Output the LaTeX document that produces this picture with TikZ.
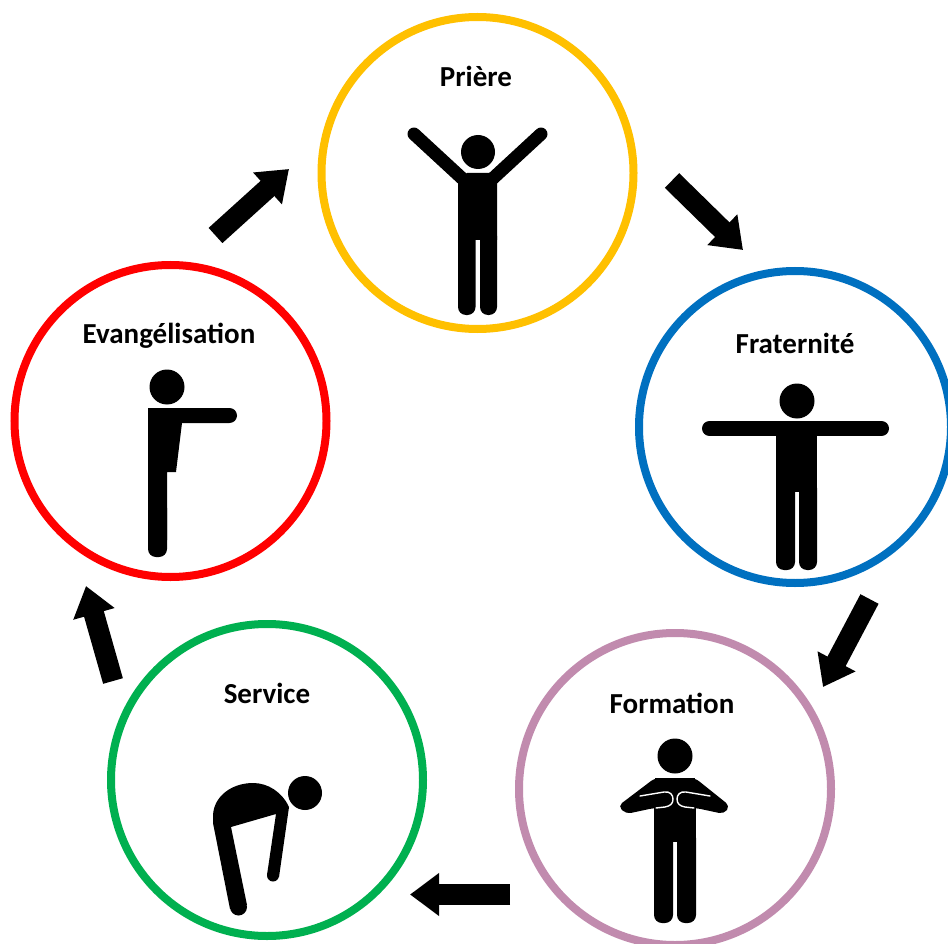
\documentclass[tikz,border=0pt]{standalone}
\usepackage{fontspec}
\setmainfont{Carlito}
\usetikzlibrary{arrows.meta}
\definecolor{cyellow}{HTML}{FFC000}
\definecolor{cblue}{HTML}{0070C0}
\definecolor{cmauve}{HTML}{C18BAE}
\definecolor{cgreen}{HTML}{00B050}
\definecolor{cred}{HTML}{FF0000}
\tikzset{
  ring/.style={circle,draw=#1,line width=8pt,minimum size=312pt,inner sep=0pt,outer sep=0pt},
  ringlabel/.style={font=\fontsize{29pt}{32pt}\selectfont\bfseries,text=black,inner sep=0pt,anchor=base},
  blockarrow/.style={line width=20.5pt,draw=black,-{Triangle[length=29pt,width=41pt]}},
  figfill/.style={fill=black,draw=none},
  limb/.style={line width=#1,draw=black,line cap=round},
  seam/.style={draw=white,line width=1.4pt,line cap=round,line join=round,fill=none}
}
\begin{document}
\begin{tikzpicture}[x=1pt,y=-1pt]
\useasboundingbox (0,0) rectangle (948,944);
\clip (0,0) rectangle (948,944);
\fill[white] (0,0) rectangle (948,944);

\node[ring=cyellow] (priere) at (477.5,173) {};
\node[ring=cblue] (frat) at (795,427) {};
\node[ring=cmauve] (form) at (675,789) {};
\node[ring=cgreen] (serv) at (267,780) {};
\node[ring=cred] (evan) at (170.5,421) {};

\node[ringlabel] (lpriere) at (476,86.5) {Prière};
\node[ringlabel] (lfrat) at (795,353) {Fraternité};
\node[ringlabel] (lform) at (672,713) {Formation};
\node[ringlabel] (lserv) at (267,703) {Service};
\node[ringlabel] (levan) at (169,343) {Evangélisation};

% block arrows
\draw[blockarrow] ([shift={(194.5,7.5)}]priere.center) -- ([shift={(-52,-177)}]frat.center);
\draw[blockarrow] ([shift={(74.5,172)}]frat.center) -- ([shift={(148,-102)}]form.center);
\draw[blockarrow] ([shift={(-165,105.5)}]form.center) -- ([shift={(143,114.5)}]serv.center);
\draw[blockarrow] ([shift={(-154,-99)}]serv.center) -- ([shift={(-84.5,165)}]evan.center);
\draw[blockarrow] ([shift={(45,-185.5)}]evan.center) -- ([shift={(-188.5,-4)}]priere.center);

% Priere figure
\fill[figfill] (478,152) circle (17);
\draw[limb=13pt] (414,134) -- (466,182);
\draw[limb=13pt] (541,134) -- (489,182);
\fill[figfill] (467,173) -- (490,173) -- (497,181) -- (497,240) -- (458,240) -- (458,181) -- cycle;
\fill[figfill,rounded corners=8pt] (458,228) rectangle (475.5,315);
\fill[figfill,rounded corners=8pt] (480,228) rectangle (497,315);
\fill[figfill] (458,220) rectangle (497,237);

% Fraternite figure
\fill[figfill] (797,401) circle (17.5);
\draw[limb=15pt] (709.5,428.5) -- (881.5,428.5);
\fill[figfill] (776,421) rectangle (817,492);
\fill[figfill,rounded corners=8pt] (776,480) rectangle (795,570);
\fill[figfill,rounded corners=8pt] (799,480) rectangle (817,570);
\fill[figfill] (776,470) rectangle (817,490);

% Formation figure
\fill[figfill] (675,756) circle (17.5);
\fill[figfill,rounded corners=5pt] (655,778) -- (695,778) -- (730,806) -- (724,814) -- (696,808) -- (654,808) -- (626,814) -- (618,806) -- cycle;
\fill[figfill] (655,778) rectangle (695,790);
\fill[figfill] (654,790) rectangle (696,842);
\fill[figfill,rounded corners=8pt] (654,830) rectangle (673,923);
\fill[figfill,rounded corners=8pt] (677,830) rectangle (696,923);
\fill[figfill] (654,815) rectangle (696,840);
\draw[seam] (640,796) -- (664,792) .. controls (670,791) and (673,795) .. (673,799) .. controls (673,804) and (670,806) .. (665,807) -- (656,808);
\draw[seam] (710,796) -- (686,792) .. controls (680,791) and (677,795) .. (677,799) .. controls (677,804) and (680,806) .. (685,807) -- (694,808);

% Service figure
\fill[figfill] (305,793) circle (17);
\fill[figfill] (213,823) -- (213,815) .. controls (214,796) and (232,783) .. (253,783) .. controls (268,783) and (282,792) .. (289,807)
  -- (279,877) -- (267,875) -- (276,814) -- (231,827) -- (247,905) -- (230,909) -- cycle;
\fill[figfill] (238.5,907) circle (8.5);
\fill[figfill] (273,875.5) circle (6);

% Evangelisation figure
\fill[figfill] (167,387) circle (17.5);
\fill[figfill] (148,408) -- (229,408) -- (229,423) -- (182,423) -- (176,472) -- (167,472) -- (167,540) -- (148,540) -- cycle;
\fill[figfill] (229.5,415.5) circle (7.5);
\fill[figfill,rounded corners=8pt] (148,500) rectangle (167,557);
\end{tikzpicture}
\end{document}
